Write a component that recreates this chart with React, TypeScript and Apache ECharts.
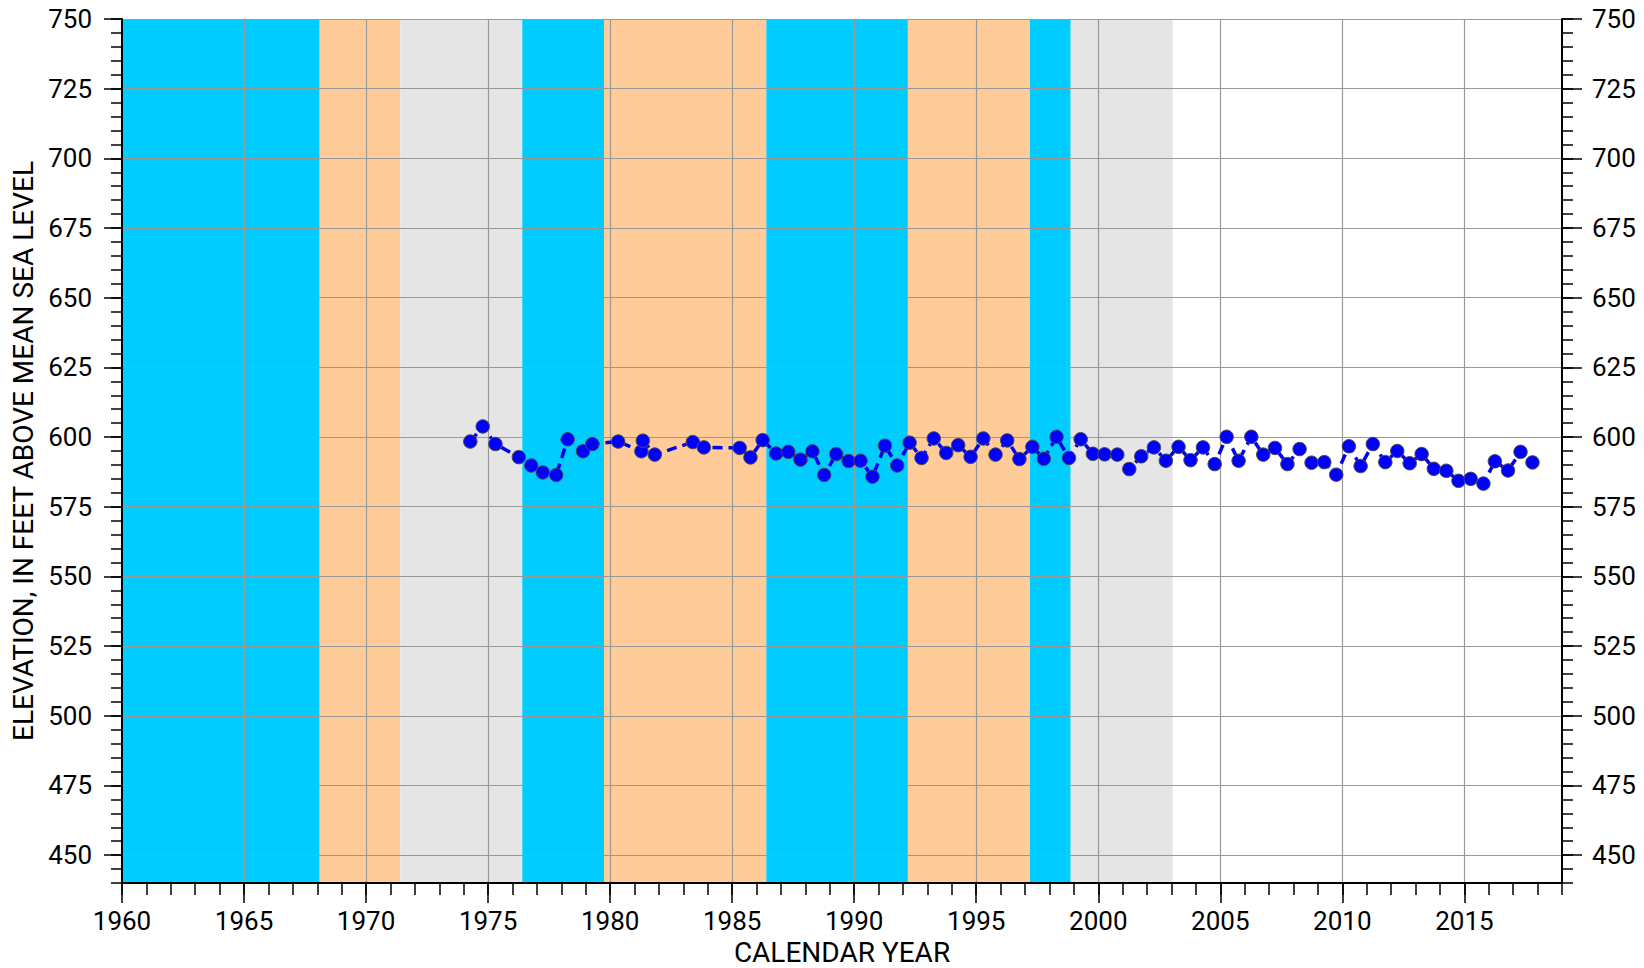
import React, { useEffect, useRef } from "react";
import * as echarts from "echarts";

// Measurement dates (decimal calendar year) and water-level elevations (ft above MSL)
const years = [
  1974.27, 1974.78, 1975.3, 1976.26, 1976.77, 1977.24, 1977.79, 1978.26, 1978.89, 1979.27,
  1980.33, 1981.28, 1981.34, 1981.83, 1983.39, 1983.84, 1985.31, 1985.75, 1986.25, 1986.8,
  1987.3, 1987.8, 1988.29, 1988.77, 1989.26, 1989.77, 1990.26, 1990.75, 1991.26, 1991.76,
  1992.27, 1992.76, 1993.26, 1993.77, 1994.26, 1994.77, 1995.29, 1995.79, 1996.27, 1996.77,
  1997.3, 1997.77, 1998.29, 1998.8, 1999.28, 1999.78, 2000.26, 2000.78, 2001.27, 2001.76,
  2002.28, 2002.77, 2003.29, 2003.78, 2004.29, 2004.77, 2005.26, 2005.75, 2006.27, 2006.76,
  2007.24, 2007.75, 2008.25, 2008.74, 2009.26, 2009.75, 2010.27, 2010.75, 2011.25, 2011.76,
  2012.25, 2012.76, 2013.25, 2013.75, 2014.26, 2014.76, 2015.26, 2015.78, 2016.25, 2016.79,
  2017.3, 2017.79,
];
const elevations = [
  598.4, 603.8, 597.5, 592.8, 589.8, 587.3, 586.4, 599.2, 594.9, 597.5,
  598.4, 594.9, 598.7, 593.7, 598.2, 596.3, 596.1, 592.7, 598.9, 594.1,
  594.7, 591.9, 594.9, 586.4, 593.9, 591.4, 591.5, 585.8, 596.9, 589.8,
  598.0, 592.5, 599.5, 594.3, 597.1, 592.9, 599.5, 593.7, 598.8, 592.1,
  596.5, 592.2, 600.1, 592.5, 599.2, 594.0, 593.8, 593.7, 588.5, 593.1,
  596.3, 591.5, 596.5, 591.7, 596.3, 590.3, 600.1, 591.5, 600.1, 593.7,
  596.1, 590.3, 595.7, 590.8, 591.0, 586.5, 596.7, 589.6, 597.5, 591.0,
  595.0, 590.6, 593.9, 588.6, 587.9, 584.3, 585.0, 583.3, 591.3, 588.0,
  594.7, 590.9,
];

// Background climate bands
const bandStart = [1960, 1968.1, 1971.4, 1976.4, 1979.75, 1986.4, 1992.2, 1997.2, 1998.87];
const bandEnd = [1968.1, 1971.4, 1976.4, 1979.75, 1986.4, 1992.2, 1997.2, 1998.87, 2003.05];
const bandKind = [0, 1, 2, 0, 1, 0, 1, 0, 2];
const bandColors = ["#00ccff", "#ffcb99", "#e5e5e5"];

// Axis ticks
const xMin = 1960;
const xMax = 2019;
const yMin = 440;
const yMax = 750;
const majorYears = [1960, 1965, 1970, 1975, 1980, 1985, 1990, 1995, 2000, 2005, 2010, 2015];
const majorElevs = [450, 475, 500, 525, 550, 575, 600, 625, 650, 675, 700, 725, 750];

const FONT = "Roboto";
const labelStyle = { fontSize: 26, color: "#000", fontFamily: FONT };
const nameStyle = { fontSize: 28, color: "#000", fontFamily: FONT };

export default function App() {
  const ref = useRef<HTMLDivElement>(null);
  useEffect(() => {
    document.body.style.margin = "0";
    const chart = echarts.init(ref.current!, null, { renderer: "svg" });
    const black = { color: "#000", width: 2 };
    const tickLine = { color: "#000", width: 1.5 };
    const grid = { color: "#999999", width: 1.2 };
    const option: any = {
      animation: false,
      backgroundColor: "#fff",
      grid: { left: 122, right: 82, top: 19, bottom: 85, containLabel: false, outerBoundsMode: "none" },
      xAxis: [
        {
          type: "value", min: xMin, max: xMax, position: "bottom", z: 3,
          axisLine: { show: true, onZero: false, lineStyle: black },
          axisTick: { show: true, customValues: majorYears, length: 20, lineStyle: tickLine },
          axisLabel: { ...labelStyle, customValues: majorYears, margin: 25, formatter: (v: number) => String(v) },
          splitLine: { show: true, lineStyle: grid },
          name: "CALENDAR YEAR", nameLocation: "middle", nameGap: 53,
          nameTextStyle: nameStyle,
        },
        {
          type: "value", min: xMin, max: xMax, interval: 1, position: "bottom", z: 3,
          axisLine: { show: false, onZero: false },
          axisTick: { show: true, length: 12, lineStyle: tickLine },
          axisLabel: { show: false },
          splitLine: { show: false },
        },
      ],
      yAxis: [
        {
          type: "value", min: yMin, max: yMax, position: "left", z: 3,
          axisLine: { show: true, onZero: false, lineStyle: black },
          axisTick: { show: true, customValues: majorElevs, length: 18, lineStyle: tickLine },
          axisLabel: { ...labelStyle, customValues: majorElevs, margin: 30 },
          splitLine: { show: true, lineStyle: grid },
          name: "ELEVATION, IN FEET ABOVE MEAN SEA LEVEL", nameLocation: "middle", nameGap: 83,
          nameTextStyle: nameStyle,
        },
        {
          type: "value", min: yMin, max: yMax, interval: 5, position: "left", z: 3,
          axisLine: { show: false, onZero: false },
          axisTick: { show: true, length: 11, lineStyle: tickLine },
          axisLabel: { show: false },
          splitLine: { show: false },
        },
        {
          type: "value", min: yMin, max: yMax, position: "right", z: 3,
          axisLine: { show: true, onZero: false, lineStyle: black },
          axisTick: { show: true, customValues: majorElevs, length: 20, lineStyle: tickLine },
          axisLabel: { ...labelStyle, customValues: majorElevs, margin: 30 },
          splitLine: { show: false },
        },
        {
          type: "value", min: yMin, max: yMax, interval: 5, position: "right", z: 3,
          axisLine: { show: false, onZero: false },
          axisTick: { show: true, length: 11, lineStyle: tickLine },
          axisLabel: { show: false },
          splitLine: { show: false },
        },
      ],
      series: [
        {
          type: "custom",
          z: 1,
          xAxisIndex: 0,
          yAxisIndex: 0,
          silent: true,
          data: bandStart.map((s, i) => [s, bandEnd[i], bandKind[i]]),
          encode: { x: [0, 1] },
          renderItem: (params: any, api: any) => {
            const cs = params.coordSys;
            const x0 = api.coord([api.value(0), yMax])[0];
            const x1 = api.coord([api.value(1), yMax])[0];
            return {
              type: "rect",
              shape: { x: x0, y: cs.y, width: x1 - x0, height: cs.height },
              style: { fill: bandColors[api.value(2)] },
            };
          },
        },
        {
          type: "line",
          z: 5,
          xAxisIndex: 0,
          yAxisIndex: 0,
          data: years.map((y, i) => [y, elevations[i]]),
          symbol: "circle",
          symbolSize: 13.5,
          itemStyle: { color: "#0000ff", borderColor: "#4d4d4d", borderWidth: 1 },
          lineStyle: { color: "#0000ee", width: 3.5, type: [10, 6] },
        },
      ],
    };
    chart.setOption(option);
    return () => chart.dispose();
  }, []);
  return <div ref={ref} style={{ width: 1644, height: 968 }} />;
}
